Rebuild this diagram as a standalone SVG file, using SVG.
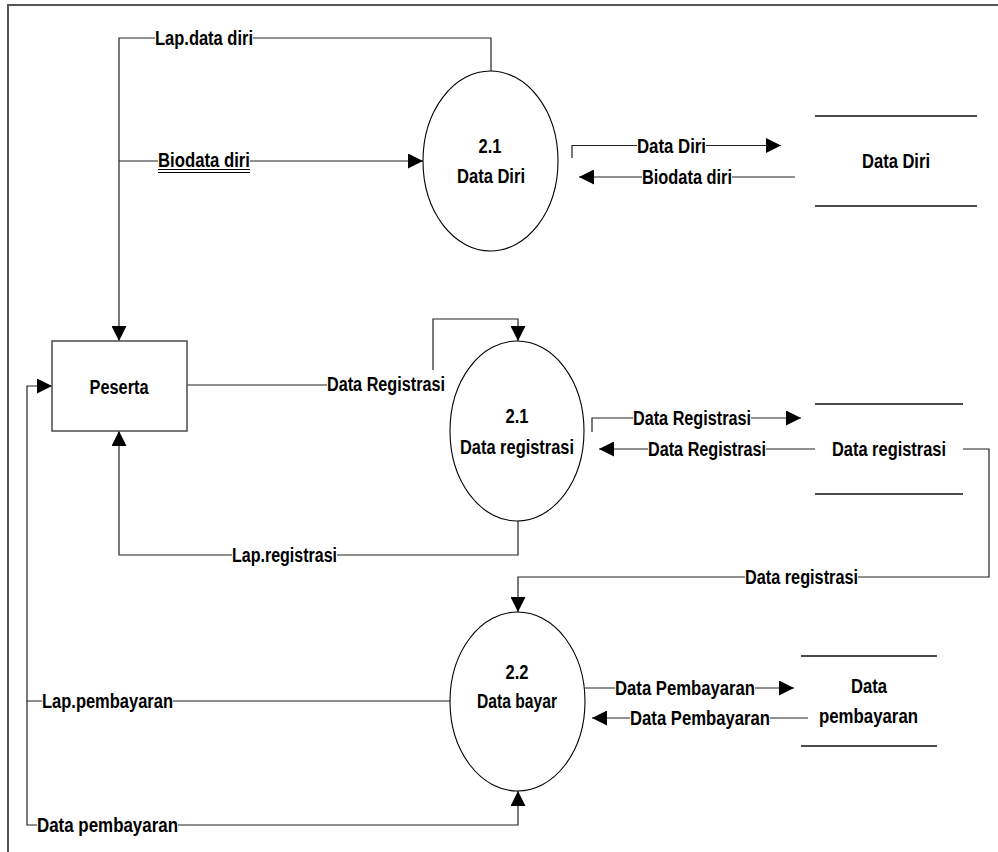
<svg xmlns="http://www.w3.org/2000/svg" width="998" height="852" viewBox="0 0 998 852">
  <style>
    text { font-family: "Liberation Sans", Arial, sans-serif; font-weight: bold; font-size: 20px; fill: #000; text-anchor: middle; }
    .bg { fill: #fff; }
    .flow { fill: none; stroke: #222; stroke-width: 1.2; }
    .arr { marker-end: url(#ah); }
    .proc { fill: #fff; stroke: #000; stroke-width: 1.1; }
    .ent { fill: #fff; stroke: #555; stroke-width: 1.6; }
    .store { stroke: #111; stroke-width: 1.6; }
  </style>
  <defs>
    <marker id="ah" markerWidth="15" markerHeight="15" refX="15" refY="7.5" orient="auto" markerUnits="userSpaceOnUse">
      <path d="M0,0 L15,7.5 L0,15 z" fill="#000"/>
    </marker>
  </defs>

  <rect width="998" height="852" fill="#fff"/>
  <!-- page frame -->
  <path d="M8,852 V5 H998" fill="none" stroke="#555" stroke-width="2"/>

  <!-- data flows -->
  <g id="connectors">
    <path class="flow arr" d="M491,71 V38 H119 V341"/>
    <path class="flow arr" d="M119,161 H423"/>
    <path class="flow arr" d="M572,158 V145.5 H781"/>
    <path class="flow arr" d="M795,177 H579"/>
    <path class="flow" d="M187,385 H327"/>
    <path class="flow arr" d="M433,370 V319 H518 V341"/>
    <path class="flow arr" d="M518,521 V555 H119 V431"/>
    <path class="flow arr" d="M592,432 V418 H801"/>
    <path class="flow arr" d="M815,449 H599"/>
    <path class="flow arr" d="M963,449 H989 V577 H518 V612"/>
    <path class="flow arr" d="M585,688 H794"/>
    <path class="flow arr" d="M808,718 H592"/>
    <path class="flow arr" d="M450,701 H27 V386 H52"/>
    <path class="flow arr" d="M27,701 V825 H518 V791"/>

    <!-- label backgrounds break the lines under the text -->
    <rect class="bg" x="155" y="29" width="98" height="19"/>
    <rect class="bg" x="158" y="152" width="92" height="16"/>
    <rect class="bg" x="637" y="137" width="69" height="19"/>
    <rect class="bg" x="642" y="168" width="90" height="19"/>
    <rect class="bg" x="633" y="409" width="118" height="19"/>
    <rect class="bg" x="648" y="440" width="118" height="19"/>
    <rect class="bg" x="232" y="546" width="105" height="19"/>
    <rect class="bg" x="745" y="568" width="113" height="19"/>
    <rect class="bg" x="615" y="679" width="140" height="19"/>
    <rect class="bg" x="630" y="709" width="140" height="19"/>
    <rect class="bg" x="42" y="692" width="131" height="19"/>
    <rect class="bg" x="37" y="816" width="141" height="19"/>

    <text x="204" y="45" textLength="98" lengthAdjust="spacingAndGlyphs">Lap.data diri</text>
    <text x="204" y="167" textLength="92" lengthAdjust="spacingAndGlyphs">Biodata diri</text>
    <path d="M158,169.5 H250 M158,172.5 H250" stroke="#000" stroke-width="1.2"/>
    <text x="671.5" y="153" textLength="69" lengthAdjust="spacingAndGlyphs">Data Diri</text>
    <text x="687" y="184" textLength="90" lengthAdjust="spacingAndGlyphs">Biodata diri</text>
    <text x="386" y="391" textLength="118" lengthAdjust="spacingAndGlyphs">Data Registrasi</text>
    <text x="284.5" y="562" textLength="105" lengthAdjust="spacingAndGlyphs">Lap.registrasi</text>
    <text x="692" y="425" textLength="118" lengthAdjust="spacingAndGlyphs">Data Registrasi</text>
    <text x="707" y="456" textLength="118" lengthAdjust="spacingAndGlyphs">Data Registrasi</text>
    <text x="801.5" y="584" textLength="113" lengthAdjust="spacingAndGlyphs">Data registrasi</text>
    <text x="685" y="695" textLength="140" lengthAdjust="spacingAndGlyphs">Data Pembayaran</text>
    <text x="700" y="725" textLength="140" lengthAdjust="spacingAndGlyphs">Data Pembayaran</text>
    <text x="107.5" y="708" textLength="131" lengthAdjust="spacingAndGlyphs">Lap.pembayaran</text>
    <text x="107.5" y="832" textLength="141" lengthAdjust="spacingAndGlyphs">Data pembayaran</text>
  </g>

  <!-- external entity -->
  <g id="peserta">
    <rect class="ent" x="52" y="341" width="135" height="90"/>
    <text x="119" y="394" textLength="59" lengthAdjust="spacingAndGlyphs">Peserta</text>
  </g>

  <!-- processes -->
  <g id="proc-data-diri">
    <ellipse class="proc" cx="490.5" cy="161" rx="67.5" ry="90"/>
    <text x="490" y="153" textLength="23" lengthAdjust="spacingAndGlyphs">2.1</text>
    <text x="491" y="183" textLength="68" lengthAdjust="spacingAndGlyphs">Data Diri</text>
  </g>
  <g id="proc-data-registrasi">
    <ellipse class="proc" cx="517" cy="431" rx="67" ry="90"/>
    <text x="517" y="423" textLength="23" lengthAdjust="spacingAndGlyphs">2.1</text>
    <text x="517" y="454" textLength="114" lengthAdjust="spacingAndGlyphs">Data registrasi</text>
  </g>
  <g id="proc-data-bayar">
    <ellipse class="proc" cx="517.5" cy="701.5" rx="67.5" ry="89.5"/>
    <text x="517" y="679" textLength="23" lengthAdjust="spacingAndGlyphs">2.2</text>
    <text x="517" y="708" textLength="80" lengthAdjust="spacingAndGlyphs">Data bayar</text>
  </g>

  <!-- data stores -->
  <g id="store-data-diri">
    <path class="store" d="M815,116 H977 M815,206 H977"/>
    <text x="896" y="168" textLength="68" lengthAdjust="spacingAndGlyphs">Data Diri</text>
  </g>
  <g id="store-data-registrasi">
    <path class="store" d="M815,404 H963 M815,494 H963"/>
    <text x="889" y="456" textLength="114" lengthAdjust="spacingAndGlyphs">Data registrasi</text>
  </g>
  <g id="store-data-pembayaran">
    <path class="store" d="M801,656 H937 M801,746 H937"/>
    <text x="869" y="693" textLength="36" lengthAdjust="spacingAndGlyphs">Data</text>
    <text x="868.5" y="723" textLength="99" lengthAdjust="spacingAndGlyphs">pembayaran</text>
  </g>
</svg>
